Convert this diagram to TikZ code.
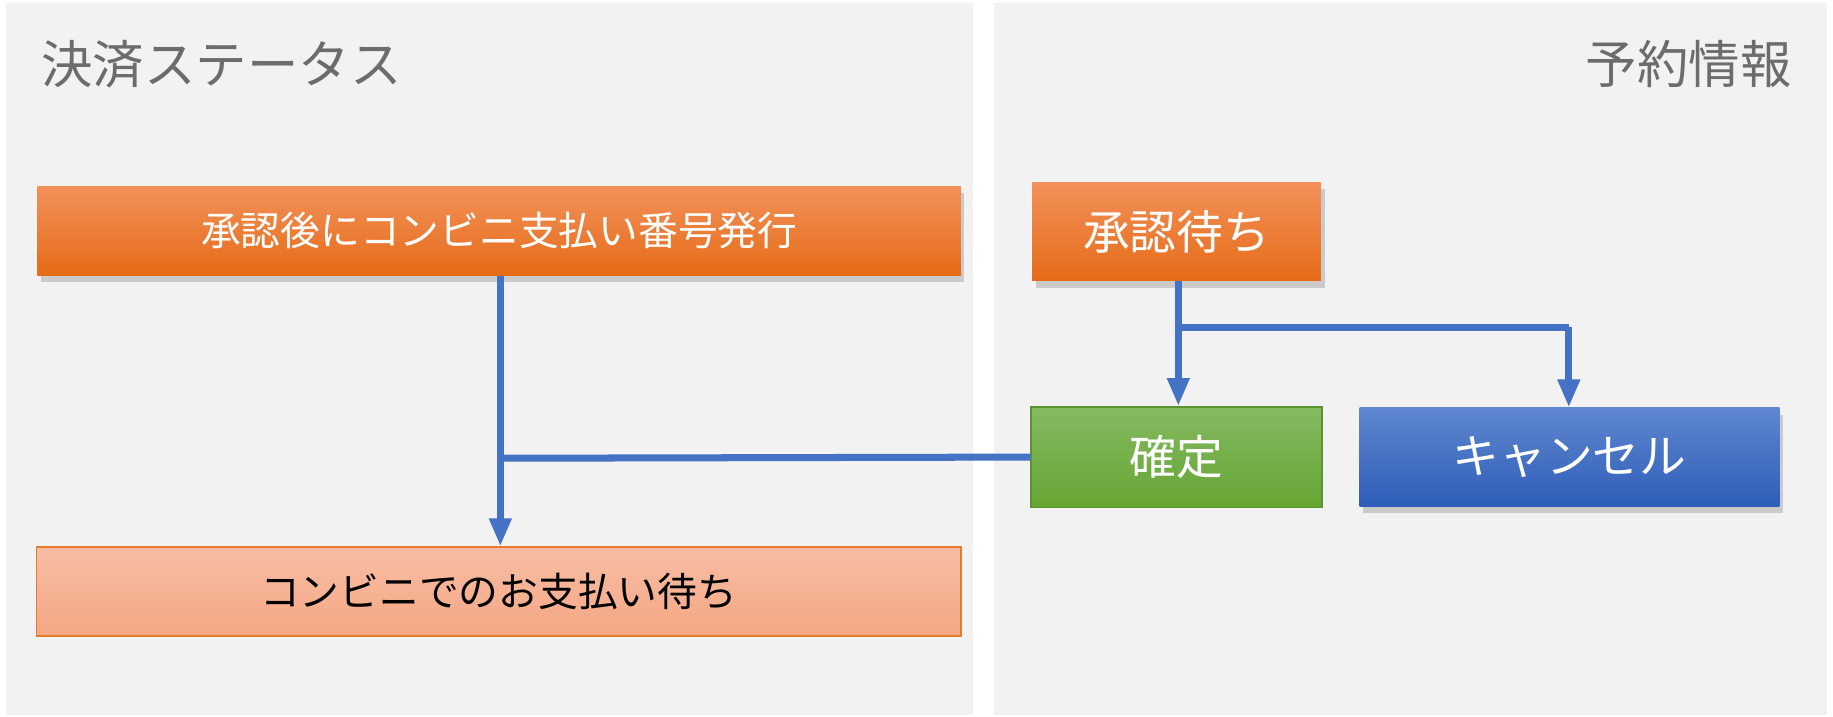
\documentclass[tikz,border=0pt]{standalone}
\usepackage{fontspec}
\setmainfont{Noto Sans CJK JP}[Scale=1]
\usetikzlibrary{shadows,arrows.meta}
\definecolor{panel}{HTML}{F2F2F2}
\definecolor{ln}{HTML}{4472C4}
\definecolor{orA}{HTML}{F3915A}
\definecolor{orB}{HTML}{E56B17}
\definecolor{grA}{HTML}{86BA62}
\definecolor{grB}{HTML}{64A533}
\definecolor{blA}{HTML}{5F87CF}
\definecolor{blB}{HTML}{2F5EB8}
\definecolor{saA}{HTML}{F7BEA5}
\definecolor{saB}{HTML}{F5A683}
\tikzset{
 box/.style={minimum height=38pt,inner sep=0pt,text=white,font=\fontsize{17}{20}\selectfont,
   drop shadow={shadow xshift=1.5pt,shadow yshift=-3pt,opacity=0.35}},
 orbox/.style={box,top color=orA,bottom color=orB},
 conn/.style={draw=ln,line width=3pt},
 arr/.style={conn,-{Triangle[length=12pt,width=9pt]}},
 title/.style={text=gray!85!black,font=\fontsize{22}{26}\selectfont,inner sep=0pt}
}
\begin{document}
\begin{tikzpicture}[x=0.5pt,y=-0.5pt]
\useasboundingbox (0,0) rectangle (1568,613);
\fill[white] (0,0) rectangle (1568,613);
\fill[panel] (5,3) rectangle (832,612);
\fill[panel] (850,3) rectangle (1563,612);
\node[title,anchor=west] (t1) at (35,55) {決済ステータス};
\node[title,anchor=east] (t2) at (1533,55) {予約情報};
\node[orbox,minimum width=395pt] (a) at (427,197.5) {承認後にコンビニ支払い番号発行};
\node[orbox,minimum width=123.5pt,minimum height=42pt,font=\fontsize{20}{24}\selectfont] (b) at (1006.5,198) {承認待ち};
\node[minimum width=124.5pt,minimum height=43pt,inner sep=0pt,top color=grA,bottom color=grB,draw=grB!90!black,line width=0.6pt,text=white,font=\fontsize{20}{24}\selectfont] (c) at (1006.5,391) {確定};
\node[box,top color=blA,bottom color=blB,minimum width=179.5pt,minimum height=42pt,font=\fontsize{20}{24}\selectfont] (d) at (1342.5,391) {キャンセル};
\node[minimum width=395.5pt,minimum height=38pt,inner sep=0pt,top color=saA,bottom color=saB,draw=orB!90,line width=0.6pt,text=black,font=\fontsize{17}{20}\selectfont] (e) at (426.5,506) {コンビニでのお支払い待ち};
\draw[arr] (a.south -| 428,0) -- (e.north -| 428,0);
\coordinate (j) at (428,392);
\draw[conn] (c.west) -- (j);
\coordinate (k) at (1008,280);
\coordinate (m) at (1342,280);
\draw[arr] (b.south -| k) -- (c.north -| k);
\draw[conn] (k) -- (m);
\draw[arr] (m) -- (d.north -| m);
\end{tikzpicture}
\end{document}
